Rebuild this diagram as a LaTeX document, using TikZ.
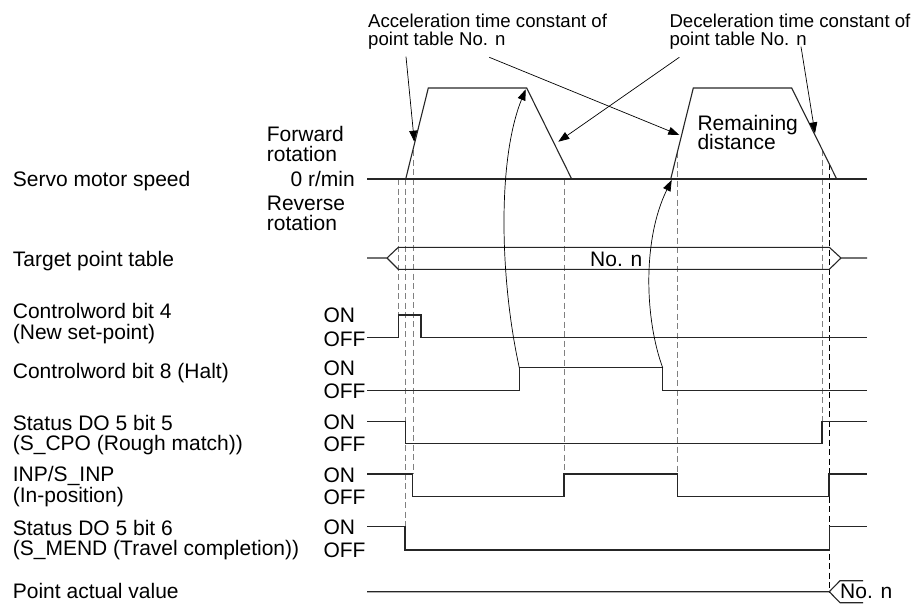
\documentclass[tikz,border=0pt]{standalone}
\usepackage{fontspec}
\setmainfont{Liberation Sans}
\usetikzlibrary{arrows.meta}

\begin{document}
\begin{tikzpicture}[
  x=1pt, y=-1pt,
  font=\fontsize{21}{20.5}\selectfont,
  >={Triangle[length=11pt,width=8pt]},
  signal/.style={line width=1.1pt, draw=black!85},
  guide/.style={line width=0.9pt, draw=black!50, dash pattern=on 6pt off 3.5pt},
  pointer/.style={->, line width=0.7pt},
  rowname/.style={anchor=base west, inner sep=0pt},
  onoff/.style={anchor=base west, inner sep=0pt},
  note/.style={anchor=base west, inner sep=0pt, font=\fontsize{18.6}{18.6}\selectfont}
]
\useasboundingbox (0,0) rectangle (919,603);

% Row names on the left.
\node[rowname] (speed) at (12.7,186) {Servo motor speed};
\node[rowname] (target) at (12.7,266.7) {Target point table};
\node[rowname] (cw4a) at (12.7,318.3) {Controlword bit 4};
\node[rowname] (cw4b) at (12.7,339) {(New set-point)};
\node[rowname] (cw8) at (12.7,378.3) {Controlword bit 8 (Halt)};
\node[rowname] (cpoa) at (12.7,430) {Status DO 5 bit 5};
\node[rowname] (cpob) at (12.7,450.5) {(S\_CPO (Rough match))};
\node[rowname] (inpa) at (12.7,481.7) {INP/S\_INP};
\node[rowname] (inpb) at (12.7,502) {(In-position)};
\node[rowname] (menda) at (12.7,535) {Status DO 5 bit 6};
\node[rowname] (mendb) at (12.7,555.5) {(S\_MEND (Travel completion))};
\node[rowname] (actual) at (12.7,598.3) {Point actual value};

% Speed axis marks.
\node[rowname] (fwda) at (266.7,141.7) {Forward};
\node[rowname] (fwdb) at (266.7,161.7) {rotation};
\node[anchor=base east, inner sep=0pt] (zero) at (355,186) {0 r/min};
\node[rowname] (reva) at (266.7,210) {Reverse};
\node[rowname] (revb) at (266.7,230) {rotation};

% ON/OFF levels.
\node[onoff] (cw4on) at (323.3,322.7) {ON};
\node[onoff] (cw4off) at (323.3,346) {OFF};
\node[onoff] (cw8on) at (323.3,375.7) {ON};
\node[onoff] (cw8off) at (323.3,398.7) {OFF};
\node[onoff] (cpoon) at (323.3,429.7) {ON};
\node[onoff] (cpooff) at (323.3,451) {OFF};
\node[onoff] (inpon) at (323.3,482) {ON};
\node[onoff] (inpoff) at (323.3,504.5) {OFF};
\node[onoff] (mendon) at (323.3,534.7) {ON};
\node[onoff] (mendoff) at (323.3,557.5) {OFF};

% Time guides.
\draw[guide] (398.3,179) -- (398.3,315);
\draw[guide] (405.7,179) -- (405.7,526.7);
\draw[guide] (413.3,150) -- (413.3,474);
\draw[guide] (564.3,179) -- (564.3,474);
\draw[guide] (677.7,152) -- (677.7,474);
\draw[guide] (822,150) -- (822,421.7);
\draw[guide, draw=black] (829.3,164) -- (829.3,591.7);

% Servo motor speed.
\draw[signal] (367,179) -- (867,179);
\draw[signal] (405.7,179) -- (428.3,88) -- (526.7,88) -- (571.7,179);
\draw[signal] (670.7,179) -- (693.3,88) -- (791.7,88) -- (836.7,179);
\node[rowname] (remaina) at (697.3,130.5) {Remaining};
\node[rowname] (remainb) at (697.3,149) {distance};

% Target point table.
\draw[signal] (367,258) -- (387,258) -- (398.3,247.3) -- (829.3,247.3)
  -- (841,258) -- (867,258);
\draw[signal] (387,258) -- (398.3,269.3) -- (829.3,269.3) -- (841,258);
\node[onoff] (tableno) at (590,266.7) {No. n};

% Control and status signals.
\draw[signal] (367,337.7) -- (398.3,337.7) -- (398.3,315) -- (421,315)
  -- (421,337.7) -- (867,337.7);
\draw[signal] (367,390.7) -- (519.3,390.7) -- (519.3,367.7) -- (662.7,367.7)
  -- (662.7,390.7) -- (867,390.7);
\draw[signal] (367,421.7) -- (405.7,421.7) -- (405.7,443.3) -- (822,443.3)
  -- (822,421.7) -- (867,421.7);
\draw[signal] (367,474) -- (412.7,474) -- (412.7,496.7) -- (564,496.7)
  -- (564,474) -- (677.3,474) -- (677.3,496.7) -- (829,496.7)
  -- (829,474) -- (867,474);
\draw[signal] (367,526.7) -- (405,526.7) -- (405,550) -- (829.3,550)
  -- (829.3,526.7) -- (867,526.7);

% Point actual value.
\draw[signal] (367,591.7) -- (829.3,591.7) -- (840,580.7) -- (863,580.7);
\draw[signal] (829.3,591.7) -- (840,602.7) -- (863,602.7);
\node[onoff] (actualno) at (840,598.3) {No. n};

% Time constant notes.
\node[note] (acca) at (368,27) {Acceleration time constant of};
\node[note] (accb) at (368,45) {point table No. n};
\node[note] (deca) at (669.3,27) {Deceleration time constant of};
\node[note] (decb) at (669.3,45) {point table No. n};
\coordinate (accA) at (406,56.7);
\coordinate (accB) at (489.3,57.3);
\coordinate (decA) at (679.3,57.3);
\coordinate (decB) at (801,46.7);
\draw[pointer] (accA) -- (414.3,141.7);
\draw[pointer] (accB) -- (679.3,135);
\draw[pointer] (decA) -- (558.3,141.7);
\draw[pointer] (decB) -- (815,133.3);

% Halt on and off.
\draw[pointer] (519.3,367.7) .. controls (500,280) and (497,160) .. (525.7,89.3);
\draw[pointer] (662.7,367.7) .. controls (645,320) and (642,240) .. (671.7,180);

\end{tikzpicture}
\end{document}
